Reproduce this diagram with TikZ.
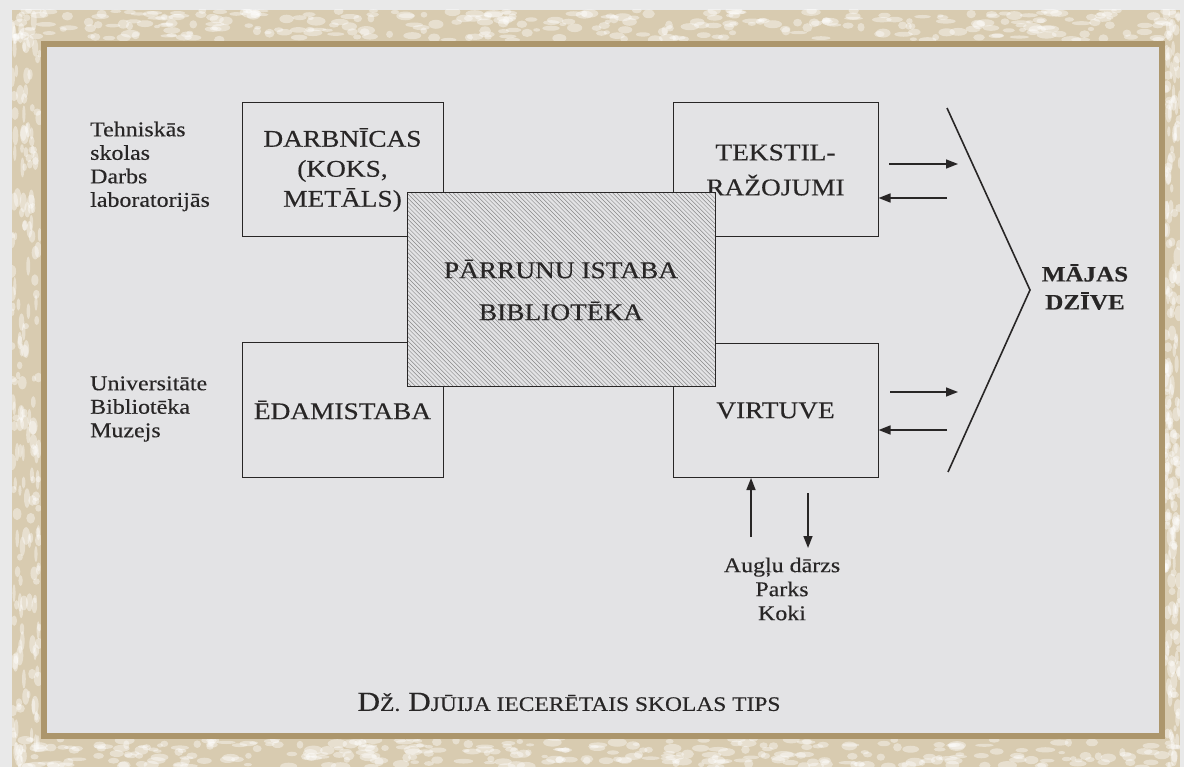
\documentclass[tikz,border=0pt]{standalone}
\usepackage{fontspec}
\setmainfont{Liberation Serif}[FakeStretch=1.14, FakeBold=0.35]
\usetikzlibrary{arrows.meta}
\definecolor{paper}{RGB}{227,227,229}
\definecolor{margin}{RGB}{233,233,233}
\definecolor{band}{RGB}{216,203,176}
\definecolor{gold}{RGB}{172,150,108}
\definecolor{ink}{RGB}{40,38,38}
\definecolor{hatch}{RGB}{135,135,135}
\newcommand\smcaps[1]{{\fontsize{20.6}{24}\selectfont #1}}
\tikzset{
  room/.style={draw=ink, line width=1pt, fill=paper, minimum width=201pt, minimum height=134pt,
    align=center, text=ink, font=\fontsize{24}{30}\selectfont},
  flow/.style={draw=ink, line width=1.6pt, -{Triangle[length=12pt,width=9pt]}},
  side/.style={align=left, anchor=west, inner sep=0pt, text=ink, font=\fontsize{21}{23.5}\selectfont},
  fleck/.style={fill=white, opacity=0.4},
}
\begin{document}
\begin{tikzpicture}[x=1pt,y=-1pt]
\useasboundingbox (0,0) rectangle (1184,767);
% paper and frame
\fill[margin] (0,0) rectangle (1184,767);
\fill[band] (12,10) rectangle (1180,767);
\begin{scope}
\clip (12,10) rectangle (1180,767);
\pgfmathsetseed{11}
\foreach \i in {1,...,320} {
  \fill[fleck] (12+rnd*1168,10+rnd*30) ellipse ({3+rnd*7} and {1.5+rnd*3});
  \fill[fleck] (12+rnd*1168,739+rnd*28) ellipse ({3+rnd*7} and {1.5+rnd*3});
}
\foreach \i in {1,...,200} {
  \fill[fleck] (12+rnd*28,10+rnd*757) ellipse ({1.5+rnd*3} and {3+rnd*7});
  \fill[fleck] (1165+rnd*15,10+rnd*757) ellipse ({1.5+rnd*3} and {3+rnd*7});
}
\end{scope}
\fill[paper] (43.5,44) rectangle (1161.5,736);
\draw[gold, line width=6pt] (43.5,44) rectangle (1161.5,736);
% rooms
\node[room] (darb) at (342.5,170) {DARBNĪCAS\\(KOKS,\\METĀLS)};
\node[room, minimum width=205pt, font=\fontsize{24}{35}\selectfont] (teks) at (775.5,170) {TEKSTIL-\\RAŽOJUMI};
\node[room] (edam) at (342.5,410) {ĒDAMISTABA};
\node[room, minimum width=205pt] (virt) at (775.5,410.5) {VIRTUVE};
\node[room, minimum width=308pt, minimum height=194pt, font=\fontsize{24}{42}\selectfont,
  path picture={\foreach \k in {-48,...,75}
    \draw[hatch, line width=0.45pt] ([xshift=\k*4.2pt]path picture bounding box.north west) -- ++(200pt,-200pt);}]
  (hall) at (561,290) {PĀRRUNU ISTABA\\BIBLIOTĒKA};
% outside
\node[side] (tech) at (90,166.5) {Tehniskās\\skolas\\Darbs\\laboratorijās};
\node[side] (univ) at (90,409) {Universitāte\\Bibliotēka\\Muzejs};
\node[align=center, text=ink, font=\fontsize{21}{24}\selectfont] (gard) at (782,589) {Augļu dārzs\\Parks\\Koki};
\node[align=center, text=ink, font=\bfseries\fontsize{22}{28}\selectfont] (home) at (1085,287) {MĀJAS\\DZĪVE};
% arrows
\coordinate (tOut1) at (889,164); \coordinate (tOut2) at (958,164);
\coordinate (tIn) at (947,198);
\coordinate (vOut1) at (890,392); \coordinate (vOut2) at (958,392);
\coordinate (vIn) at (947,430);
\coordinate (gUp) at (751,537);
\coordinate (gDn1) at (808,493); \coordinate (gDn2) at (808,548);
\draw[flow] (tOut1) -- (tOut2);
\draw[flow] (tIn) -- (tIn -| teks.east);
\draw[flow] (vOut1) -- (vOut2);
\draw[flow] (vIn) -- (vIn -| virt.east);
\draw[flow] (gUp) -- (gUp |- virt.south);
\draw[flow] (gDn1) -- (gDn2);
\coordinate (chTop) at (947,108); \coordinate (chTip) at (1030,290); \coordinate (chBot) at (948,472);
\draw[ink, line width=1.6pt] (chTop) -- (chTip) -- (chBot);
% caption
\node[text=ink, font=\fontsize{27.5}{30}\selectfont] (title) at (569,702)
  {D\smcaps{Ž.} D\smcaps{JŪIJA IECERĒTAIS SKOLAS TIPS}};
\end{tikzpicture}
\end{document}
